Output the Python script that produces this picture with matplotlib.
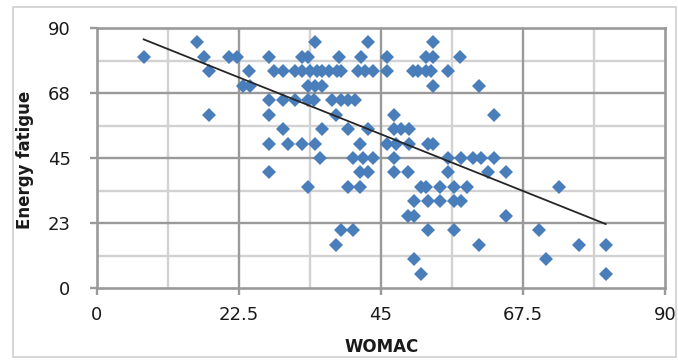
import numpy as np
import matplotlib.pyplot as plt
from matplotlib.patches import Rectangle

# WOMAC score vs SF-36 energy/fatigue, grouped by fatigue level
energy_levels = [85, 80, 75, 70, 65, 60, 55, 50, 45, 40, 35, 30, 25, 20, 15, 10, 5]
womac_by_level = [
    [15.8, 34.6, 43.0, 53.3],
    [7.4, 16.9, 20.9, 22.2, 27.2, 32.5, 33.5, 38.3, 41.9, 46.0, 52.2, 53.3, 57.5],
    [17.8, 24.1, 28.1, 29.4, 31.3, 32.5, 33.7, 34.8, 35.7, 36.8, 38.1, 38.7, 41.4,
     42.5, 43.8, 46.0, 50.0, 50.9, 52.1, 52.9, 55.6],
    [23.2, 24.3, 33.5, 34.6, 35.7, 53.3, 60.6],
    [27.2, 29.4, 31.3, 33.5, 34.4, 37.3, 38.6, 39.7, 40.9],
    [17.8, 27.2, 37.8, 47.0, 62.9],
    [29.4, 35.7, 39.8, 43.0, 47.0, 48.1, 49.4],
    [27.2, 30.3, 32.5, 34.6, 41.7, 46.0, 47.3, 49.4, 52.4, 53.3],
    [35.4, 40.6, 42.1, 43.8, 47.0, 55.6, 57.6, 59.5, 60.8, 62.9],
    [27.2, 41.7, 43.0, 47.0, 49.2, 55.6, 61.9, 64.8],
    [33.5, 39.7, 41.7, 51.4, 52.2, 54.4, 56.5, 58.6, 73.2],
    [50.2, 52.4, 54.4, 56.5, 57.6],
    [49.2, 50.2, 64.8],
    [38.6, 40.6, 52.4, 56.5, 70.0],
    [37.8, 60.5, 76.3, 80.6],
    [50.2, 71.1],
    [51.3, 80.6],
]

xticks = [0, 22.5, 45, 67.5, 90]
yticks = [0, 22.5, 45, 67.5, 90]
ytick_labels = ['0', '23', '45', '68', '90']

womac = np.array([x for row in womac_by_level for x in row])
energy = np.array([lv for lv, row in zip(energy_levels, womac_by_level) for _ in row])

fig = plt.figure(figsize=(6.78, 3.6), dpi=100)
ax = fig.add_axes([97/678, 72/360, 568/678, 260/360])

major_c = '#9a9a9a'
minor_c = '#d2d2d2'
for v in [11.25, 33.75, 56.25, 78.75]:
    ax.axvline(v, color=minor_c, lw=1.7, zorder=0)
    ax.axhline(v, color=minor_c, lw=1.7, zorder=0)
for v in xticks[1:-1]:
    ax.axvline(v, color=major_c, lw=1.7, zorder=0)
for v in yticks[1:-1]:
    ax.axhline(v, color=major_c, lw=1.7, zorder=0)

ax.plot(womac, energy, linestyle='none', marker='D', ms=7.3,
        color='#4a7ebb', markeredgewidth=0, zorder=3)

# linear trend
k, b = np.polyfit(womac, energy, 1)
xs = np.array([womac.min(), womac.max()])
ax.plot(xs, k * xs + b, color='#262626', lw=1.3, zorder=4)

ax.set_xlim(0, 90)
ax.set_ylim(0, 90)
ax.set_xticks(xticks)
ax.set_xticklabels(['0', '22.5', '45', '67.5', '90'])
ax.set_yticks(yticks)
ax.set_yticklabels(ytick_labels)
ax.tick_params(axis='both', direction='out', length=5, width=1.7, color=major_c,
               labelsize=13, labelcolor='#1a1a1a')
ax.tick_params(axis='x', pad=8)
ax.tick_params(axis='y', pad=14)
for s in ax.spines.values():
    s.set_color(major_c)
    s.set_linewidth(1.9)

fig.text(25/678, 1 - 160/360, 'Energy fatigue', rotation=90, ha='center',
         va='center', fontsize=12, fontweight='bold', color='#1a1a1a')
fig.text(382/678, 1 - 347/360, 'WOMAC', ha='center', va='center',
         fontsize=12, fontweight='bold', color='#1a1a1a')

fig.patches.append(Rectangle((13/678, 3/360), 663/678, 350/360, transform=fig.transFigure,
                             fill=False, edgecolor='#d0d0d0', lw=1.2))

fig.savefig('out.png', dpi=100)
